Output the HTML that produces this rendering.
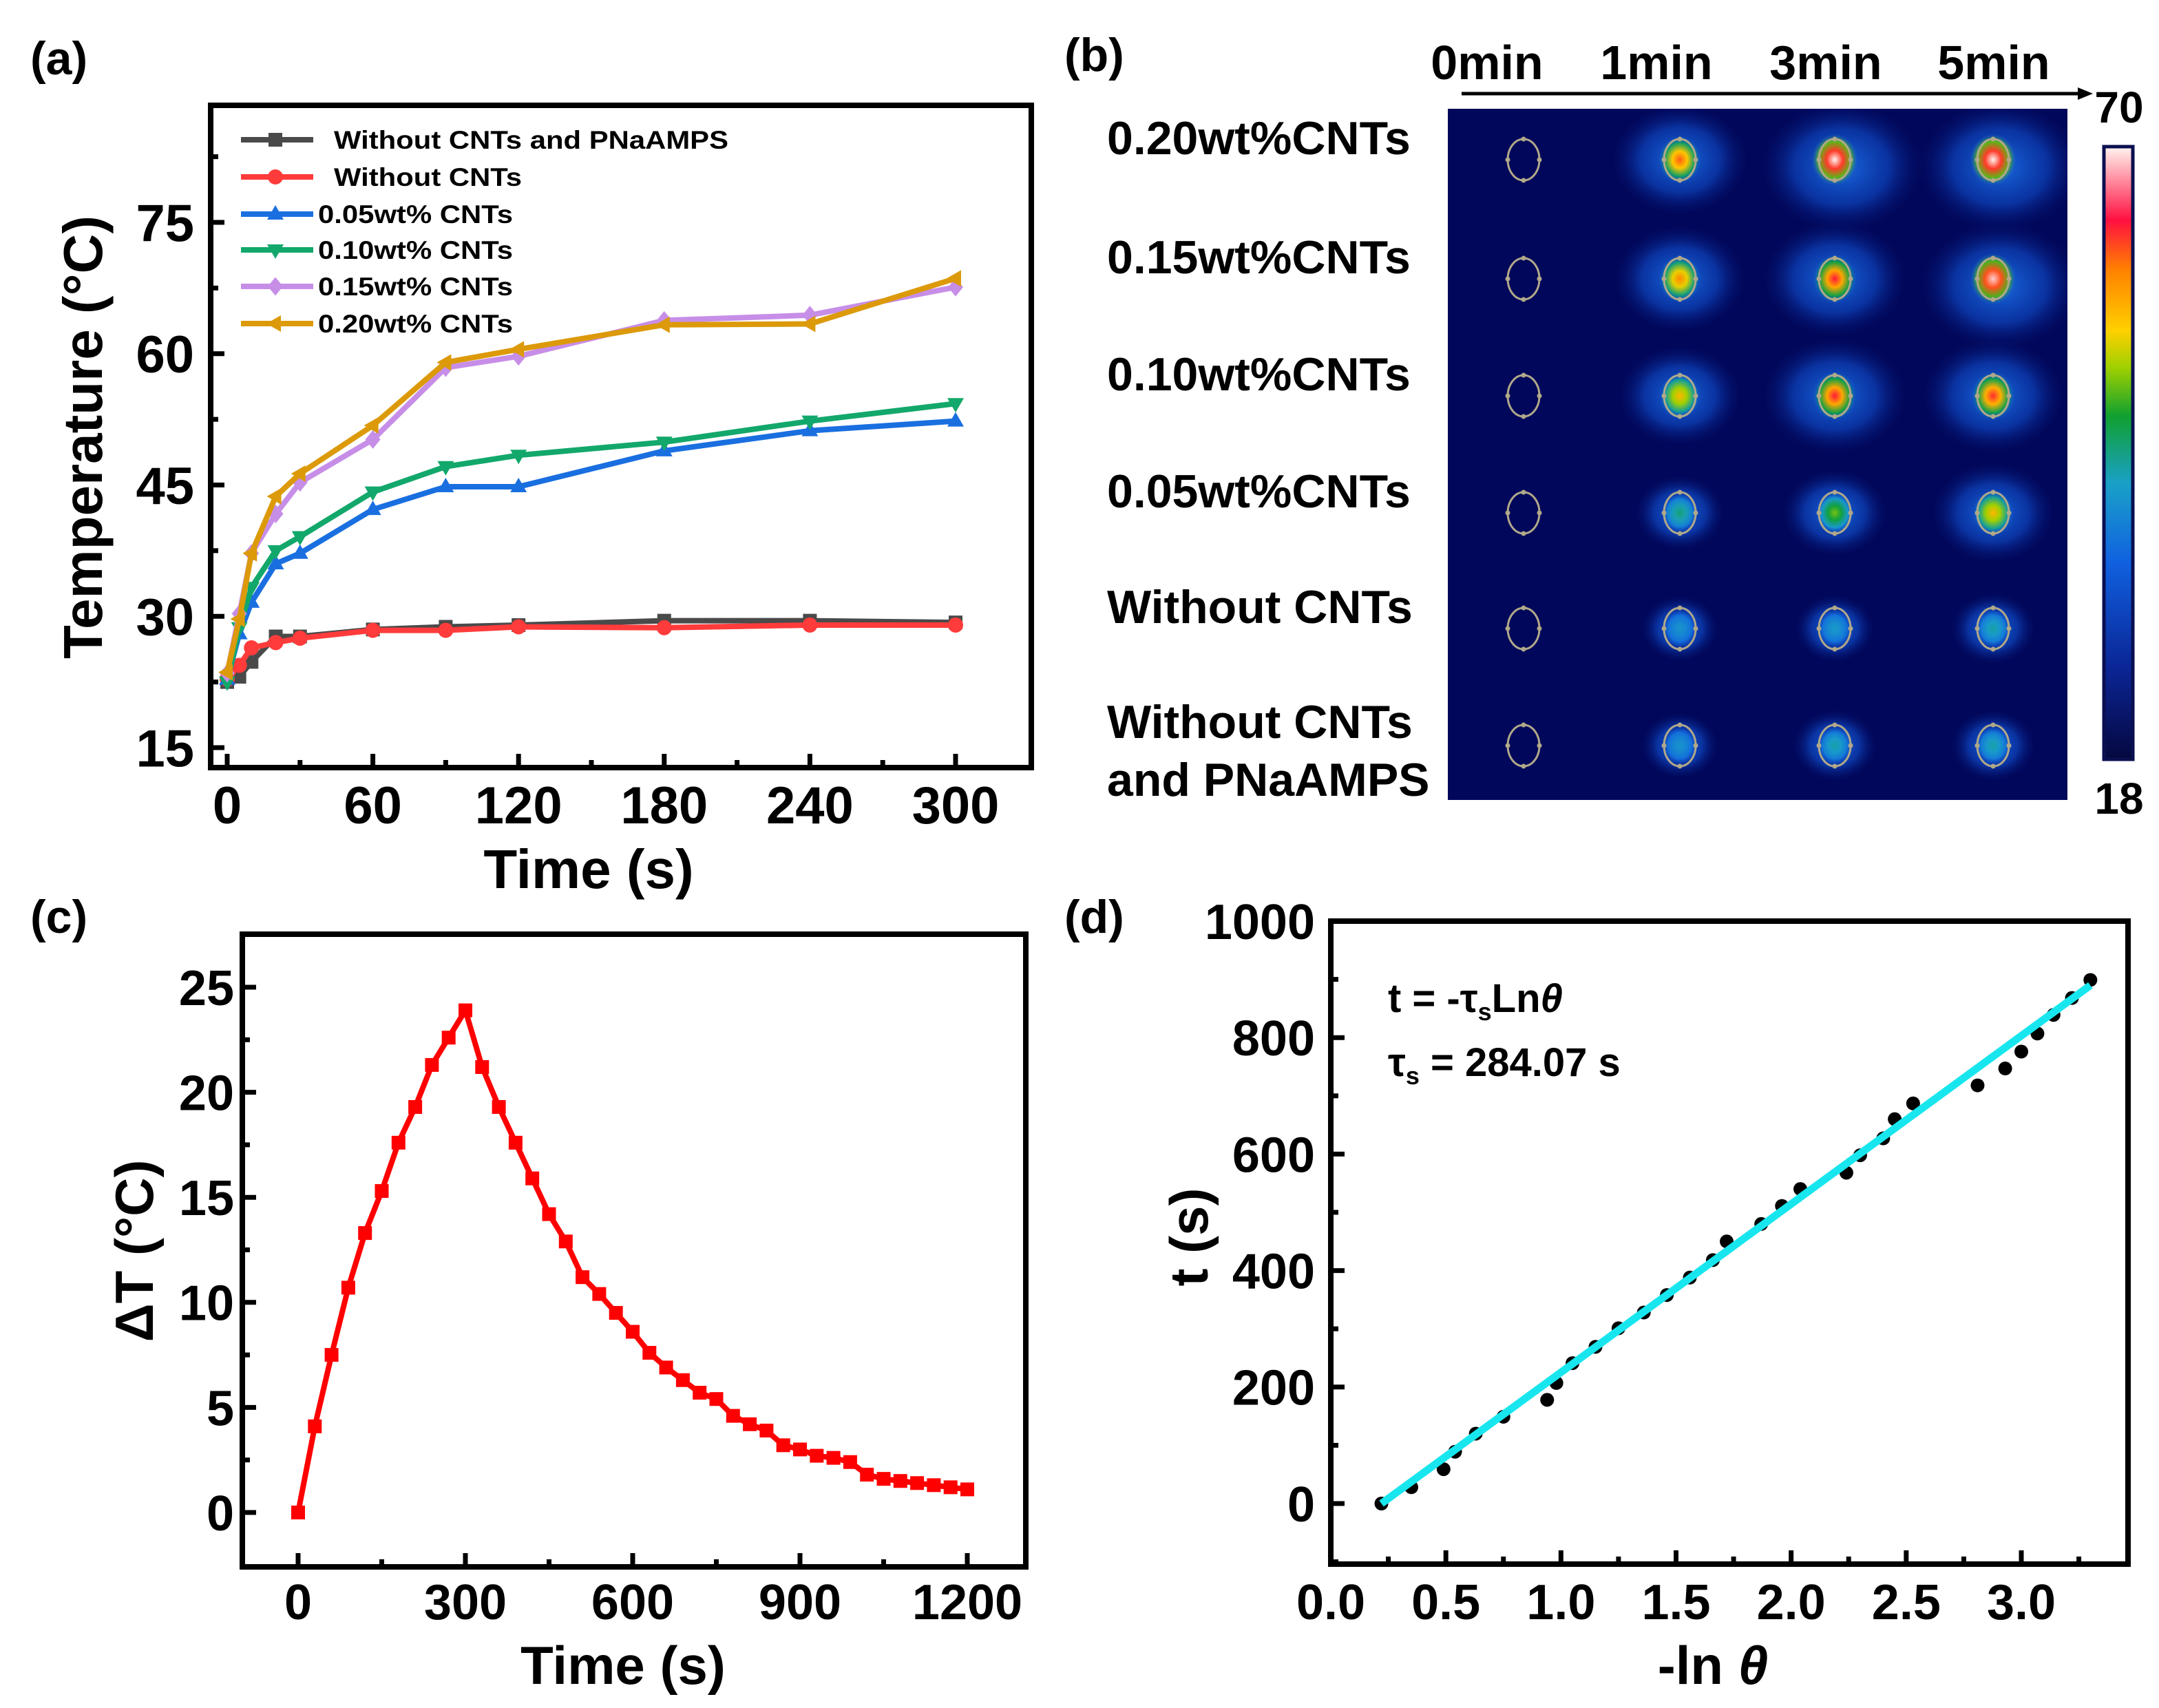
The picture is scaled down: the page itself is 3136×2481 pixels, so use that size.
<!DOCTYPE html>
<html><head><meta charset="utf-8"><style>
html,body{margin:0;padding:0;background:#fff}
svg{display:block}
text{font-family:"Liberation Sans",Arial,sans-serif;font-weight:bold;fill:#000}
</style></head><body>
<svg id="fig" xmlns="http://www.w3.org/2000/svg" width="3136" height="2481" viewBox="0 0 3136 2481">
<defs>
<linearGradient id="cbar" x1="0" y1="1" x2="0" y2="0">
<stop offset="0" stop-color="#05083f"/><stop offset="0.15" stop-color="#0a2595"/><stop offset="0.32" stop-color="#1060e0"/><stop offset="0.45" stop-color="#1aa0c8"/><stop offset="0.56" stop-color="#10a030"/><stop offset="0.64" stop-color="#a0d000"/><stop offset="0.7" stop-color="#ffd000"/><stop offset="0.8" stop-color="#ff8000"/><stop offset="0.88" stop-color="#ff1040"/><stop offset="1" stop-color="#fff4ef"/>
</linearGradient>
<clipPath id="thermClip"><rect x="2103" y="158" width="900" height="1004"/></clipPath>
</defs>
<g id="pa"></g>
<g id="pb"></g>
<g id="pc"></g>
<g id="pd"></g>
</svg>
<script>
// ---------- Panel (a) data ----------
const timesA = [0,5,10,20,30,60,90,120,180,240,300];
const seriesNamesA = ["Without CNTs and PNaAMPS","Without CNTs","0.05wt% CNTs","0.10wt% CNTs","0.15wt% CNTs","0.20wt% CNTs"];
const valsNoCNTnoPN = [22.5,23.1,24.8,27.7,27.7,28.5,28.8,29.0,29.5,29.5,29.3];
const valsNoCNT = [22.8,24.4,26.4,27.0,27.5,28.4,28.4,28.8,28.7,29.0,29.0];
const vals005 = [22.8,28.0,31.6,36.0,37.2,42.2,44.8,44.8,48.9,51.2,52.3];
const vals010 = [22.5,28.7,33.3,37.5,39.1,44.2,47.1,48.4,49.9,52.3,54.3];
const vals015 = [23.5,30.3,37.2,41.7,45.3,50.2,58.4,59.7,63.8,64.4,67.6];
const vals020 = [23.6,29.7,37.2,43.7,46.3,51.8,59.0,60.5,63.3,63.4,68.6];
const xTicksA = [0,60,120,180,240,300];
const yTicksA = [15,30,45,60,75];
// ---------- Panel (b) data ----------
const colLabelsB = ["0min","1min","3min","5min"];
const rowLabelsB = ["0.20wt%CNTs","0.15wt%CNTs","0.10wt%CNTs","0.05wt%CNTs","Without CNTs","Without CNTs|and PNaAMPS"];
const intensity020 = [0,0.75,1.0,1.0];
const intensity015 = [0,0.7,0.82,0.97];
const intensity010 = [0,0.62,0.82,0.8];
const intensity005 = [0,0.3,0.45,0.62];
const intensityNoCNT = [0,0.18,0.2,0.25];
const intensityNoCNTnoPN = [0,0.18,0.25,0.25];
// ---------- Panel (c) data ----------
const timesC = [0,30,60,90,120,150,180,210,240,270,300,330,360,390,420,450,480,510,540,570,600,630,660,690,720,750,780,810,840,870,900,930,960,990,1020,1050,1080,1110,1140,1170,1200];
const deltaT = [0,4.1,7.5,10.7,13.3,15.3,17.6,19.3,21.3,22.6,23.9,21.2,19.3,17.6,15.9,14.2,12.9,11.2,10.4,9.5,8.6,7.6,6.9,6.3,5.7,5.4,4.6,4.2,3.9,3.2,3.0,2.7,2.6,2.4,1.8,1.6,1.5,1.4,1.3,1.2,1.1];
const xTicksC = [0,300,600,900,1200];
const yTicksC = [0,5,10,15,20,25];
// ---------- Panel (d) data ----------
const lnTheta = [0.22,0.35,0.49,0.54,0.63,0.75,0.94,0.98,1.05,1.15,1.25,1.36,1.46,1.56,1.66,1.72,1.87,1.96,2.04,2.24,2.30,2.40,2.45,2.53,2.81,2.93,3.00,3.07,3.14,3.22,3.30];
const tValues = [0,28,59,89,120,149,178,207,241,269,301,328,358,388,418,450,480,511,540,568,598,627,660,687,718,747,776,807,839,868,899];
const fitSlope = [288.9];
const fitIntercept = [-63.6];
const fitRange = [0.22,3.30];
const xTicksD = [0.0,0.5,1.0,1.5,2.0,2.5,3.0];
const yTicksD = [0,200,400,600,800,1000];

const NS="http://www.w3.org/2000/svg";
function mk(parent,tag,attrs,txt){const e=document.createElementNS(NS,tag);for(const k in attrs)e.setAttribute(k,attrs[k]);if(txt!==undefined)e.textContent=txt;parent.appendChild(e);return e;}
function lin(d0,d1,r0,r1){return v=>r0+(v-d0)*(r1-r0)/(d1-d0);}

function axesFrame(g,box,sx,sy,xt,yt,xminor,yminor,xfmt,yfmt,fs,xLabY,yLabX){
  xt.forEach(v=>{const t=mk(g,'line',{x1:sx(v),x2:sx(v),y1:box.b,y2:box.b-20,stroke:'#000','stroke-width':7});
    
    const l=mk(g,'text',{x:sx(v),y:xLabY,'font-size':fs,'text-anchor':'middle'},xfmt(v));
    });
  xminor.forEach(v=>{const t=mk(g,'line',{x1:sx(v),x2:sx(v),y1:box.b,y2:box.b-11,stroke:'#000','stroke-width':7});
    });
  yt.forEach(v=>{const t=mk(g,'line',{x1:box.l,x2:box.l+20,y1:sy(v),y2:sy(v),stroke:'#000','stroke-width':7});
    
    const l=mk(g,'text',{x:yLabX,y:sy(v)+fs*0.36,'font-size':fs,'text-anchor':'end'},yfmt(v));
    });
  yminor.forEach(v=>{const t=mk(g,'line',{x1:box.l,x2:box.l+11,y1:sy(v),y2:sy(v),stroke:'#000','stroke-width':7});
    });
  const r=mk(g,'rect',{x:box.l,y:box.t,width:box.r-box.l,height:box.b-box.t,fill:'none',stroke:'#000','stroke-width':8});
  
}
function marker(g,type,x,y,s,col){
  let e;
  if(type==='square')e=mk(g,'rect',{x:x-s,y:y-s,width:2*s,height:2*s,fill:col});
  else if(type==='circle')e=mk(g,'circle',{cx:x,cy:y,r:s*1.1,fill:col});
  else if(type==='up')e=mk(g,'polygon',{points:`${x},${y-s*1.3} ${x-s*1.2},${y+s*0.8} ${x+s*1.2},${y+s*0.8}`,fill:col});
  else if(type==='down')e=mk(g,'polygon',{points:`${x},${y+s*1.3} ${x-s*1.2},${y-s*0.8} ${x+s*1.2},${y-s*0.8}`,fill:col});
  else if(type==='diamond')e=mk(g,'polygon',{points:`${x},${y-s*1.35} ${x+s*1.1},${y} ${x},${y+s*1.35} ${x-s*1.1},${y}`,fill:col});
  else if(type==='left')e=mk(g,'polygon',{points:`${x-s*1.3},${y} ${x+s*0.8},${y-s*1.2} ${x+s*0.8},${y+s*1.2}`,fill:col});
  return e;
}

// ================= Panel (a) =================
(function(){
  const g=document.getElementById('pa');
  const box={l:306,r:1498,t:153,b:1115};
  const sx=lin(0,300,330,1388), sy=lin(15,75,1086,323);
  const lab=mk(g,'text',{x:44,y:108,'font-size':68},'(a)');
  
  const series=[valsNoCNTnoPN,valsNoCNT,vals005,vals010,vals015,vals020];
  const cols=['#4a4a4a','#ff3b3b','#1a6fe0','#13a86b','#c78ee8','#dc9a0a'];
  const mks=['square','circle','up','down','diamond','left'];
  series.forEach((vals,i)=>{
    const sg=mk(g,'g',{});
    
    
    const pts=timesA.map((t,j)=>sx(t)+','+sy(vals[j])).join(' ');
    const pl=mk(sg,'polyline',{points:pts,fill:'none',stroke:cols[i],'stroke-width':8,'stroke-linejoin':'round'});
    
    timesA.forEach((t,j)=>{const m=marker(sg,mks[i],sx(t),sy(vals[j]),10,cols[i]);
      });
  });
  const lg=mk(g,'g',{});
  const ly=[203,257,311,363,416,470];
  seriesNamesA.forEach((n,i)=>{
    const eg=mk(lg,'g',{});
    mk(eg,'line',{x1:350,x2:455,y1:ly[i],y2:ly[i],stroke:cols[i],'stroke-width':8});
    marker(eg,mks[i],400,ly[i],10,cols[i]);
    const tx=i<2?485:462;
    const w=i===0?573:(i===1?273:283);
    mk(eg,'text',{x:tx,y:ly[i]+13,'font-size':37,textLength:w,lengthAdjust:'spacingAndGlyphs'},n);
  });
  axesFrame(g,box,sx,sy,xTicksA,yTicksA,[30,90,150,210,270],[22.5,37.5,52.5,67.5,82.5].filter(v=>v<86),v=>v,v=>v,76,1196,282);
  const xt=mk(g,'text',{x:855,y:1290,'font-size':80,'text-anchor':'middle'},'Time (s)');
  
  const yt=mk(g,'text',{x:0,y:0,'font-size':80,'text-anchor':'middle',transform:'translate(148,635) rotate(-90)'},'Temperature (°C)');
  
})();

// ================= Panel (b) =================
(function(){
  const g=document.getElementById('pb');
  const lab=mk(g,'text',{x:1546,y:103,'font-size':68},'(b)');
  
  const colX=[2213,2440,2665,2895], rowY=[232,405,575,745,913,1083];
  const colLabX=[2160,2406,2652,2896];
  colLabelsB.forEach((c,i)=>{const t=mk(g,'text',{x:colLabX[i],y:115,'font-size':70,'text-anchor':'middle'},c);
    });
  const ar=mk(g,'g',{});
  mk(ar,'line',{x1:2123,x2:3025,y1:136,y2:136,stroke:'#000','stroke-width':5});
  mk(ar,'polygon',{points:'3040,136 3018,127 3018,145',fill:'#000'});
  const bg=mk(g,'rect',{x:2103,y:158,width:900,height:1004,fill:'#01075a'});
  
  const spots=mk(g,'g',{'clip-path':'url(#thermClip)'});
  
  const defs=document.querySelector('defs');
  const stops=[[0,[5,8,63]],[0.15,[10,37,149]],[0.32,[16,96,224]],[0.45,[26,160,200]],[0.56,[16,160,48]],[0.64,[160,208,0]],[0.7,[255,208,0]],[0.8,[255,128,0]],[0.88,[255,16,64]],[1,[255,244,239]]];
  function cmap(v){v=Math.max(0,Math.min(1,v));for(let i=1;i<stops.length;i++){if(v<=stops[i][0]){const a=stops[i-1],b=stops[i];const f=(v-a[0])/(b[0]-a[0]);return 'rgb('+a[1].map((c,k)=>Math.round(c+(b[1][k]-c)*f)).join(',')+')';}}return 'rgb(255,244,239)';}
  const grid=[intensity020,intensity015,intensity010,intensity005,intensityNoCNT,intensityNoCNTnoPN];
  let gid=0;
  grid.forEach((row,r)=>{
    const rl=rowLabelsB[r].split('|');
    rl.forEach((s,k)=>{
      const by = rl.length>1 ? (k===0?1072:1156) : rowY[r]-8;
      const t=mk(g,'text',{x:1608,y:by,'font-size':68},s);
      });
    row.forEach((I,c)=>{
      const cg=mk(spots,'g',{});
      const cx=colX[c], cy=rowY[r];
      if(I>0){
        const hid='h'+(gid++);
        const hg=mk(defs,'radialGradient',{id:hid});
        mk(hg,'stop',{offset:0,'stop-color':'#1a70e8','stop-opacity':0.95});
        mk(hg,'stop',{offset:0.55,'stop-color':'#1050d0','stop-opacity':0.6});
        mk(hg,'stop',{offset:1,'stop-color':'#01075a','stop-opacity':0});
        mk(cg,'ellipse',{cx:cx+(I>0.9?10:0),cy:cy+(I>0.9?10:0),rx:45+80*I,ry:40+60*I,fill:`url(#${hid})`});
        const cid='c'+(gid++);
        const cgd=mk(defs,'radialGradient',{id:cid});
        mk(cgd,'stop',{offset:0,'stop-color':cmap(0.3+0.7*I)});
        mk(cgd,'stop',{offset:0.35,'stop-color':cmap(0.3+0.55*I)});
        mk(cgd,'stop',{offset:0.7,'stop-color':cmap(0.3+0.3*I)});
        mk(cgd,'stop',{offset:1,'stop-color':cmap(0.3),'stop-opacity':0});
        mk(cg,'ellipse',{cx:cx,cy:cy,rx:22+12*I,ry:24+14*I,fill:`url(#${cid})`});
      }
      mk(cg,'ellipse',{cx:cx,cy:cy,rx:23,ry:30,fill:'none',stroke:'#b0a88a','stroke-width':3});
      [[0,-30],[0,30],[-23,0],[23,0]].forEach(p=>mk(cg,'circle',{cx:cx+p[0],cy:cy+p[1],r:3.5,fill:'#b0a88a'}));
    });
  });
  const cb=mk(g,'rect',{x:3056,y:213,width:42,height:890,fill:'url(#cbar)',stroke:'#0a0f50','stroke-width':5});
  
  const t1=mk(g,'text',{x:3078,y:178,'font-size':64,'text-anchor':'middle'},'70');
  
  const t2=mk(g,'text',{x:3078,y:1182,'font-size':64,'text-anchor':'middle'},'18');
  
})();

// ================= Panel (c) =================
(function(){
  const g=document.getElementById('pc');
  const box={l:352,r:1490,t:1357,b:2276};
  const sx=lin(0,1200,433,1405), sy=lin(0,25,2197,1434);
  const lab=mk(g,'text',{x:44,y:1355,'font-size':68},'(c)');
  
  axesFrame(g,box,sx,sy,xTicksC,yTicksC,[150,450,750,1050],[2.5,7.5,12.5,17.5,22.5],v=>v,v=>v,72,2352,340);
  const pl=mk(g,'polyline',{points:timesC.map((t,i)=>sx(t)+','+sy(deltaT[i])).join(' '),fill:'none',stroke:'#ff0000','stroke-width':8,'stroke-linejoin':'round'});
  
  timesC.forEach((t,i)=>{const m=mk(g,'rect',{x:sx(t)-10,y:sy(deltaT[i])-10,width:20,height:20,fill:'#ff0000'});
    });
  const xt=mk(g,'text',{x:905,y:2446,'font-size':78,'text-anchor':'middle'},'Time (s)');
  
  const yt=mk(g,'text',{x:0,y:0,'font-size':78,'text-anchor':'middle',transform:'translate(222,1817) rotate(-90)'},'ΔT (°C)');
  
})();

// ================= Panel (d) =================
(function(){
  const g=document.getElementById('pd');
  const box={l:1933,r:3091,t:1338,b:2272};
  const sx=lin(0,3,1933,2936), sy=lin(0,1000,2184,1338);
  const lab=mk(g,'text',{x:1546,y:1355,'font-size':68},'(d)');
  
  axesFrame(g,box,sx,sy,xTicksD,yTicksD,[0.25,0.75,1.25,1.75,2.25,2.75,3.25],[-100,100,300,500,700,900],v=>v.toFixed(1),v=>v,72,2352,1910);
  lnTheta.forEach((x,i)=>{const c=mk(g,'circle',{cx:sx(x),cy:sy(tValues[i]),r:10,fill:'#000'});
    });
  const f=v=>fitSlope[0]*v+fitIntercept[0];
  const fl=mk(g,'line',{x1:sx(fitRange[0]),y1:sy(f(fitRange[0])),x2:sx(fitRange[1]),y2:sy(f(fitRange[1])),stroke:'#18e6ee','stroke-width':11});
  
  const a1=mk(g,'text',{x:2016,y:1470,'font-size':58});
  
  a1.innerHTML='t = -τ<tspan font-size="36" dy="12">s</tspan><tspan dy="-12">Ln</tspan><tspan font-style="italic">θ</tspan>';
  const a2=mk(g,'text',{x:2016,y:1563,'font-size':58});
  
  a2.innerHTML='τ<tspan font-size="36" dy="12">s</tspan><tspan dy="-12"> = 284.07 s</tspan>';
  const xt=mk(g,'text',{x:2488,y:2446,'font-size':78,'text-anchor':'middle'});
  
  xt.innerHTML='-ln <tspan font-style="italic">θ</tspan>';
  const yt=mk(g,'text',{x:0,y:0,'font-size':78,'text-anchor':'middle',transform:'translate(1754,1797) rotate(-90)'},'t (s)');
  
})();
</script>
</body></html>
